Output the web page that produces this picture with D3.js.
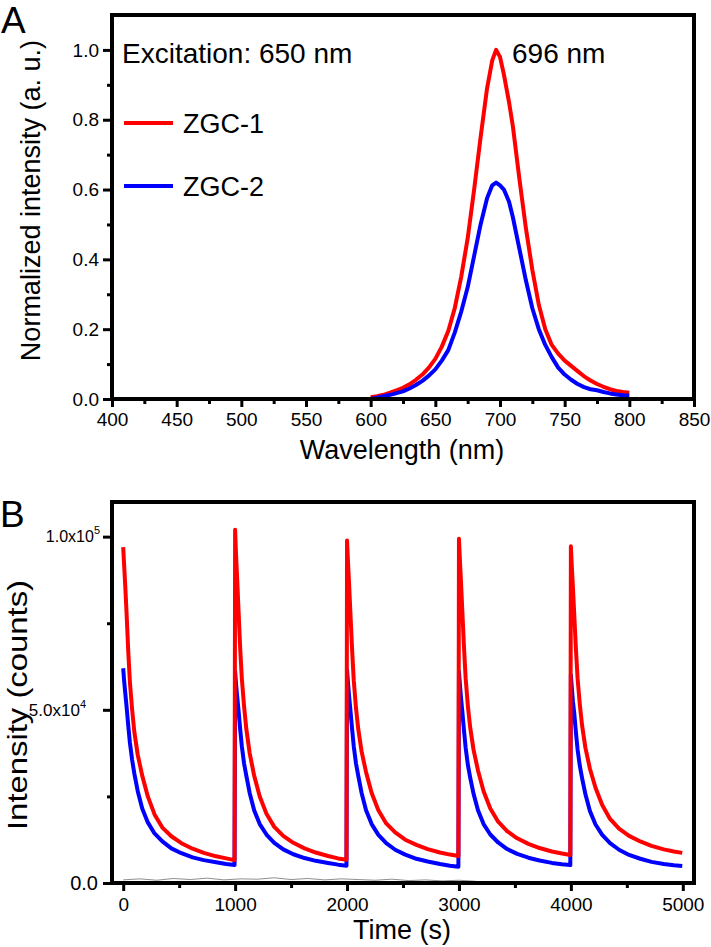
<!DOCTYPE html>
<html><head><meta charset="utf-8">
<script src="https://cdn.jsdelivr.net/npm/d3@7"></script>
<style>
body{margin:0;background:#fff}
text{font-family:"Liberation Sans",Arial,sans-serif;fill:#000}
</style>
</head><body>
<svg id="chart" width="711" height="947"></svg>
<script>
// ---------- Panel A data ----------
const wavelengths = [600,605,610,615,620,625,630,635,640,645,650,655,660,665,670,675,680,685,690,694,697,700,703,707,710,715,720,725,730,735,740,745,750,755,760,765,770,775,780,785,790,795,800];
const zgc1Spectrum = [0.005,0.008,0.012,0.018,0.025,0.032,0.042,0.055,0.07,0.09,0.115,0.15,0.195,0.26,0.35,0.46,0.6,0.75,0.89,0.97,1.0,0.98,0.93,0.85,0.78,0.63,0.49,0.37,0.27,0.2,0.155,0.13,0.11,0.095,0.08,0.065,0.053,0.043,0.035,0.028,0.023,0.02,0.018];
const zgc2Spectrum = [0.0,0.004,0.008,0.012,0.017,0.022,0.03,0.04,0.052,0.067,0.085,0.11,0.14,0.19,0.25,0.32,0.41,0.5,0.575,0.612,0.62,0.612,0.6,0.565,0.52,0.43,0.34,0.26,0.2,0.155,0.12,0.09,0.07,0.055,0.043,0.034,0.028,0.025,0.02,0.016,0.013,0.011,0.01];
const spectrumXTicks = [400,450,500,550,600,650,700,750,800,850];
const spectrumXMinor = [425,475,525,575,625,675,725,775,825];
const spectrumYTicks = [0,0.2,0.4,0.6,0.8,1.0];
const spectrumYMinor = [0.1,0.3,0.5,0.7,0.9];
const seriesNames = ["ZGC-1","ZGC-2"];
const seriesColors = ["#ff0000","#0000ff"];

// ---------- Panel B data ----------
const cycleStarts = [0,1000,2000,3000,4000];
const decayOffsets = [0,8,18,30,45,60,80,100,130,170,220,280,350,430,520,620,720,830,920,995];
const zgc1Decay = [
  [97000,92000,86000,78000,67000,58000,50000,43500,37000,31000,25000,19800,16000,13500,11500,9900,8700,7700,7100,6600],
  [102000,95000,88000,79000,68000,59000,51000,44500,37500,31000,25000,20000,16200,13600,11600,10000,8800,7800,7100,6700],
  [98900,93000,86500,78000,67500,58500,50500,44500,38000,32000,26000,21000,17200,14600,12500,11000,9800,8800,8200,7800],
  [99400,93500,87000,78500,68000,59000,51000,45000,38500,32500,26500,21500,17700,15000,12900,11300,10100,9100,8500,8100],
  [97200,91500,85500,77500,67500,59000,51500,45500,39000,33000,27500,22500,18500,15700,13600,12000,10700,9700,9100,8700]
];
const zgc2Decay = [
  [62000,58500,55000,51000,45500,40500,35500,31500,26500,21500,17500,14300,12000,10000,8600,7400,6600,6000,5500,5200],
  [61000,57500,54000,50000,44500,39500,34500,31000,26000,21000,17000,14000,11600,9700,8300,7200,6400,5800,5300,5000],
  [61500,58000,54000,50000,44500,39500,34500,31000,26000,21000,17000,13900,11500,9600,8200,7000,6200,5500,5000,4700],
  [61000,57500,53500,49500,44000,39000,34000,30500,25800,21000,17000,14000,11700,9800,8400,7300,6500,5800,5400,5200],
  [60000,56500,52500,49000,43500,38500,33800,30300,25600,20800,16900,13900,11500,9600,8100,7000,6100,5500,5100,4900]
];
const baselineTimes = [0,150,300,450,600,750,900,1050,1200,1350,1500,1650,1800,1950,2100,2250,2400,2550,2700,2850,3000,3150];
const baselineValues = [900,1200,800,1300,1000,1400,900,1200,1100,1500,1000,1300,900,1200,1000,800,1100,700,900,600,800,500];
const timeXTicks = [0,1000,2000,3000,4000,5000];
const timeXMinor = [500,1500,2500,3500,4500];
const intensityYTicks = [0,50000,100000];
const intensityYMinor = [25000,75000];
const intensityYLabels = [{m:"0.0",e:""},{m:"5.0x10",e:"4"},{m:"1.0x10",e:"5"}];

// ---------- Layout ----------
const svg = d3.select("#chart");
const A = {l:112, r:694, t:15, b:399};
const B = {l:112, r:694, t:502, b:883};

function frame(p){
  svg.append("rect").attr("x",p.l).attr("y",p.t).attr("width",p.r-p.l).attr("height",p.b-p.t)
    .attr("fill","none").attr("stroke","#000").attr("stroke-width",4);
}
function styleAxis(g){
  g.select(".domain").remove();
  g.selectAll(".tick line").attr("stroke","#000").attr("stroke-width",3);
}
function styleText(g){
  g.selectAll("text").attr("font-size",19).attr("font-family","Liberation Sans, Arial").attr("fill","#000");
}

// ===== Panel A =====
const xA = d3.scaleLinear().domain([400,850]).range([A.l,A.r]);
const yA = d3.scaleLinear().domain([0,1.1]).range([A.b,A.t]);

svg.append("g").attr("transform",`translate(0,${A.b})`)
  .call(d3.axisBottom(xA).tickValues(spectrumXMinor).tickSize(5).tickFormat(""))
  .call(styleAxis);
svg.append("g").attr("transform",`translate(0,${A.b})`)
  .call(d3.axisBottom(xA).tickValues(spectrumXTicks).tickSize(8).tickPadding(6).tickFormat(d3.format("d")))
  .call(styleAxis).call(styleText);
svg.append("g").attr("transform",`translate(${A.l},0)`)
  .call(d3.axisLeft(yA).tickValues(spectrumYMinor).tickSize(5).tickFormat(""))
  .call(styleAxis);
svg.append("g").attr("transform",`translate(${A.l},0)`)
  .call(d3.axisLeft(yA).tickValues(spectrumYTicks).tickSize(9).tickPadding(4).tickFormat(d3.format(".1f")))
  .call(styleAxis).call(styleText);

const lineA = d3.line().x((d,i)=>xA(wavelengths[i])).y(d=>yA(d));
[zgc1Spectrum, zgc2Spectrum].forEach((s,k)=>{
  svg.append("path").datum(s).attr("d",lineA).attr("fill","none")
    .attr("stroke",seriesColors[k]).attr("stroke-width",4).attr("stroke-linejoin","round");
});
frame(A);

svg.append("text").attr("x",1).attr("y",33).attr("font-size",37).text("A");
svg.append("text").attr("x",122).attr("y",63).attr("font-size",28).text("Excitation: 650 nm");
svg.append("text").attr("x",512).attr("y",63).attr("font-size",28).text("696 nm");
const legY = [123,186];
seriesNames.forEach((n,k)=>{
  svg.append("line").attr("x1",124).attr("x2",173).attr("y1",legY[k]).attr("y2",legY[k])
    .attr("stroke",seriesColors[k]).attr("stroke-width",4);
  svg.append("text").attr("x",183).attr("y",legY[k]+10).attr("font-size",27).text(n);
});
svg.append("text").attr("transform","translate(40,40) rotate(-90)").attr("text-anchor","end")
  .attr("font-size",27).text("Normalized intensity (a. u.)");
svg.append("text").attr("x",402).attr("y",459).attr("text-anchor","middle").attr("font-size",27).text("Wavelength (nm)");

// ===== Panel B =====
const xB = d3.scaleLinear().domain([-100,5100]).range([B.l,B.r]);
const yB = d3.scaleLinear().domain([0,110000]).range([B.b,B.t]);

svg.append("g").attr("transform",`translate(0,${B.b})`)
  .call(d3.axisBottom(xB).tickValues(timeXMinor).tickSize(5).tickFormat(""))
  .call(styleAxis);
svg.append("g").attr("transform",`translate(0,${B.b})`)
  .call(d3.axisBottom(xB).tickValues(timeXTicks).tickSize(8).tickPadding(7).tickFormat(d3.format("d")))
  .call(styleAxis).call(styleText);
svg.append("g").attr("transform",`translate(${B.l},0)`)
  .call(d3.axisLeft(yB).tickValues(intensityYMinor).tickSize(5).tickFormat(""))
  .call(styleAxis);
svg.append("g").attr("transform",`translate(${B.l},0)`)
  .call(d3.axisLeft(yB).tickValues(intensityYTicks).tickSize(9).tickFormat(""))
  .call(styleAxis);
const labelRight = [98,86,100];
const labelSize = [20,17,16];
intensityYTicks.forEach((v,i)=>{
  const lab = intensityYLabels[i];
  const t = svg.append("text").attr("x",labelRight[i]).attr("y",yB(v)+0.35*labelSize[i])
    .attr("text-anchor","end").attr("font-size",labelSize[i]);
  t.append("tspan").text(lab.m);
  if(lab.e) t.append("tspan").attr("font-size",11).attr("dy",-8).text(lab.e);
});

// faint baseline trace near zero
const baseLine = d3.line().x((d,i)=>xB(baselineTimes[i])).y(d=>yB(d));
svg.append("path").datum(baselineValues).attr("d",baseLine).attr("fill","none")
  .attr("stroke","#444").attr("stroke-width",1).attr("opacity",0.6);

const decayLine = d3.line().x(d=>xB(d[0])).y(d=>yB(d[1]));
// blue first, red on top
[[zgc2Decay,1],[zgc1Decay,0]].forEach(([cycles,k])=>{
  const pts = [];
  cycles.forEach((vals,c)=>{
    vals.forEach((v,j)=>pts.push([cycleStarts[c]+decayOffsets[j], v]));
  });
  svg.append("path").datum(pts).attr("d",decayLine).attr("fill","none")
    .attr("stroke",seriesColors[k]).attr("stroke-width",4).attr("stroke-linejoin","round");
});
frame(B);

svg.append("text").attr("x",0).attr("y",527).attr("font-size",37).text("B");
svg.append("text").attr("transform","translate(27,830) rotate(-90)").attr("text-anchor","start")
  .attr("font-size",28).attr("textLength",250).attr("lengthAdjust","spacingAndGlyphs").text("Intensity (counts)");
svg.append("text").attr("x",402).attr("y",939).attr("text-anchor","middle").attr("font-size",27).text("Time (s)");
</script>
</body></html>
